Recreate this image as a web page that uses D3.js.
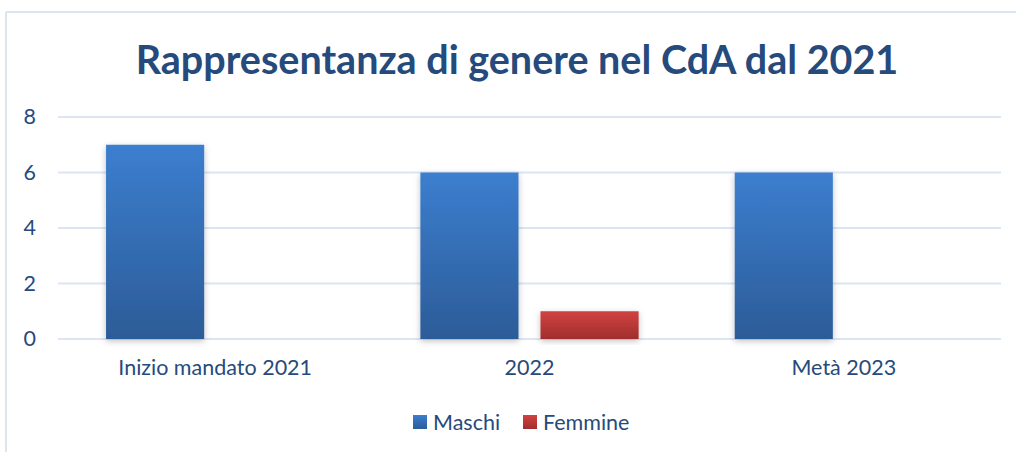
<!DOCTYPE html>
<html>
<head>
<meta charset="utf-8">
<script src="https://cdn.jsdelivr.net/npm/d3@7"></script>
<style>
  html, body { margin: 0; padding: 0; background: #fff; }
  svg { display: block; font-family: Lato, "Open Sans", sans-serif; }
</style>
</head>
<body>
<script>
// Chart data
const categories = ["Inizio mandato 2021", "2022", "Metà 2023"];
const seriesNames = ["Maschi", "Femmine"];
const maschi = [7, 6, 6];
const femmine = [0, 1, 0];
const yTicks = [0, 2, 4, 6, 8];

const width = 1016, height = 452;
const margin = { top: 117, right: 15, bottom: 113, left: 58 };
const textColor = "#264a7c";
const gridColor = "#dce6f2";
const labelSize = 21.5;

const svg = d3.select("body")
    .append("svg")
    .attr("width", width)
    .attr("height", height);

// gradients for the bars
const defs = svg.append("defs");
const grads = [
    { id: "gradBlue", top: "#3c7ecf", bottom: "#2c5c98" },
    { id: "gradRed", top: "#d24241", bottom: "#a02e2d" }
];
grads.forEach(g => {
    const lg = defs.append("linearGradient")
        .attr("id", g.id)
        .attr("x1", 0).attr("y1", 0).attr("x2", 0).attr("y2", 1);
    lg.append("stop").attr("offset", "0%").attr("stop-color", g.top);
    lg.append("stop").attr("offset", "100%").attr("stop-color", g.bottom);
});
const shadow = defs.append("filter")
    .attr("id", "shadow")
    .attr("x", "-20%").attr("y", "-20%")
    .attr("width", "140%").attr("height", "140%");
shadow.append("feDropShadow")
    .attr("dx", 0).attr("dy", 2)
    .attr("stdDeviation", 3)
    .attr("flood-color", "#000")
    .attr("flood-opacity", 0.25);

// chart border (only top and left edges visible)
svg.append("line")
    .attr("x1", 6).attr("x2", width).attr("y1", 12).attr("y2", 12)
    .attr("stroke", gridColor).attr("stroke-width", 2);
svg.append("line")
    .attr("x1", 6).attr("x2", 6).attr("y1", 12).attr("y2", height)
    .attr("stroke", gridColor).attr("stroke-width", 2);

// title
svg.append("text")
    .attr("x", 517)
    .attr("y", 74)
    .attr("text-anchor", "middle")
    .attr("fill", textColor)
    .attr("font-weight", "bold")
    .attr("font-size", 39.5)
    .text("Rappresentanza di genere nel CdA dal 2021");

// scales
const x0 = d3.scaleBand()
    .domain(categories)
    .range([margin.left, width - margin.right])
    .padding(0);

const x1 = d3.scaleBand()
    .domain(seriesNames)
    .range([0, x0.bandwidth()])
    .paddingInner(0.183)
    .paddingOuter(0.4);

const y = d3.scaleLinear()
    .domain([0, 8])
    .range([height - margin.bottom, margin.top]);

const color = d3.scaleOrdinal()
    .domain(seriesNames)
    .range(["url(#gradBlue)", "url(#gradRed)"]);

// gridlines
svg.append("g")
    .selectAll("line")
    .data(yTicks)
    .enter().append("line")
    .attr("x1", margin.left)
    .attr("x2", width - margin.right)
    .attr("y1", d => y(d))
    .attr("y2", d => y(d))
    .attr("stroke", gridColor)
    .attr("stroke-width", 2);

// y axis labels
const yAxis = svg.append("g")
    .attr("transform", `translate(${margin.left},0)`)
    .call(d3.axisLeft(y).tickValues(yTicks).tickSize(0).tickPadding(22));
yAxis.select(".domain").remove();
yAxis.selectAll("text")
    .attr("fill", textColor)
    .attr("font-size", labelSize)
    .attr("font-family", "Lato, sans-serif");

// x axis labels
const xAxis = svg.append("g")
    .attr("transform", `translate(0,${height - margin.bottom})`)
    .call(d3.axisBottom(x0).tickSize(0).tickPadding(21));
xAxis.select(".domain").remove();
xAxis.selectAll("text")
    .attr("fill", textColor)
    .attr("font-size", labelSize)
    .attr("font-family", "Lato, sans-serif");

// bars
const rows = categories.map((c, i) => ({
    category: c,
    values: [
        { series: "Maschi", value: maschi[i] },
        { series: "Femmine", value: femmine[i] }
    ]
}));

const groups = svg.append("g")
    .selectAll("g")
    .data(rows)
    .enter().append("g")
    .attr("transform", d => `translate(${x0(d.category)},0)`);

groups.selectAll("rect")
    .data(d => d.values.filter(v => v.value > 0))
    .enter().append("rect")
    .attr("x", d => x1(d.series))
    .attr("width", x1.bandwidth())
    .attr("y", d => y(d.value))
    .attr("height", d => y(0) - y(d.value))
    .attr("fill", d => color(d.series))
    .attr("filter", "url(#shadow)");

// legend
const legendItems = [
    { name: "Maschi", x: 413 },
    { name: "Femmine", x: 523 }
];
const legend = svg.append("g")
    .selectAll("g")
    .data(legendItems)
    .enter().append("g")
    .attr("transform", d => `translate(${d.x},415)`);
legend.append("rect")
    .attr("width", 14)
    .attr("height", 14)
    .attr("fill", d => color(d.name));
legend.append("text")
    .attr("x", 20)
    .attr("y", 15)
    .attr("fill", textColor)
    .attr("font-size", labelSize)
    .text(d => d.name);
</script>
</body>
</html>
